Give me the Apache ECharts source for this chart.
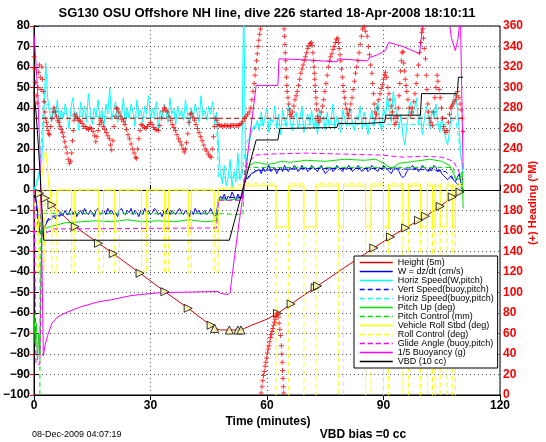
<!DOCTYPE html>
<html><head><meta charset="utf-8">
<script src="https://cdn.jsdelivr.net/npm/echarts@6/dist/echarts.min.js"></script>
<style>html,body{margin:0;padding:0;background:#fff}#c{width:546px;height:442px}</style>
</head><body><div id="c"></div>
<script>
// ---------- DATA ----------
const timeStep = 0.5; // minutes between samples of the dense series
const xTicks = [0, 30, 60, 90, 120];
const leftTicks = {min: -100, max: 80, step: 10};
const rightTicks = {min: 0, max: 360, step: 20};

const legendNames = ['Height (5m)','W = dz/dt (cm/s)','Horiz Speed(W,pitch)','Vert Speed(buoy,pitch)','Horiz Speed(buoy,pitch)','Pitch Up (deg)','Pitch Control (mm)','Vehicle Roll Stbd (deg)','Roll Control (deg)','Glide Angle (buoy,pitch)','1/5 Buoyancy (g)','VBD (10 cc)'];

const heightLine = [[0,0],[1.4,-1.6],[2.9,-4],[4.6,-7.3],[10.6,-17.9],[16.6,-26],[20.4,-31],[27.3,-40.6],[33.7,-49.6],[39.7,-57.7],[46.5,-67.5],[48,-68.3],[53,-68.3],[54.2,-67.5],[56,-66],[58,-64.5],[60,-63],[62.7,-60.2],[66.2,-55.6],[73,-46.8],[80,-37.8],[87.5,-28.3],[91.8,-22.9],[95.7,-18.5],[99,-14.8],[100.8,-12.8],[104.6,-8],[107.7,-3.4],[109.7,-1.2],[110.5,0]];
const heightMarks = [[1.4,-1.6],[2.9,-4],[4.6,-7.3],[10.6,-17.9],[16.6,-26],[20.4,-31],[27.3,-40.6],[33.7,-49.6],[39.7,-57.7],[45.6,-66],[46.5,-67.5],[50.3,-68.3],[52.5,-68.3],[53.3,-68.3],[62.7,-60.2],[66.2,-55.6],[72.4,-47.6],[73,-46.8],[87.5,-28.3],[91.8,-22.9],[95.7,-18.5],[99,-14.8],[100.8,-12.8],[104.6,-8],[107.7,-3.4],[109.7,-1]];

const wDzDt = [0,-4,-12,-20,-22,-19,-17,-15,
-15,-14,-13,-14,-12,-13,-11,-12,-10,-12,
-11,-9,-12,-10,-13,-11,-10,-12,-9,-11,
-12,-10,-11,-13,-10,-9,-12,-11,-10,-12,
-9,-11,-10,-12,-11,-13,-10,-9,-11,-12,
-10,-11,-9,-12,-10,-11,-13,-10,-12,-9,
-11,-10,-12,-11,-9,-10,-12,-11,-13,-10,
-11,-9,-12,-10,-11,-12,-10,-9,-11,-12,
-10,-11,-13,-10,-12,-9,-11,-10,-12,-11,
-10,-12,-11,-9,-11,-13,-12,
-6,-3,-4,-2,-5,-3,-4,-1,-3,-5,-2,-4,-3,
2,
5,6,7,8,8,9,
9,10,8,11,9,10,12,9,10,11,
8,10,11,9,12,10,9,11,10,12,
11,9,10,12,10,11,9,10,12,11,
10,9,11,12,10,8,9,10,11,9,
10,12,11,10,9,11,10,12,11,9,
10,11,12,10,9,10,11,9,10,12,
11,10,9,11,10,12,11,10,9,8,
10,11,10,9,7,6,7,9,10,11,
12,10,11,9,10,12,11,10,9,11,
10,12,11,9,10,8,7,6,5,6,
7,
5,4,6,8,3,0];

const horizSpeedW = [0,2,5,10,15,
35,62,45,
38,33,41,36,44,31,39,35,42,37,
30,40,45,34,38,29,43,36,41,33,
47,38,32,40,36,44,35,39,31,42,
37,50,34,39,43,33,38,36,45,32,
40,35,42,38,31,44,36,39,33,41,
37,46,34,40,36,43,30,39,35,42,
38,33,45,37,40,32,41,36,39,34,
44,37,31,40,35,42,38,33,46,36,
39,34,41,37,43,32,38,
22,8,3,12,2,6,15,1,9,4,18,5,10,
95,
12,18,24,28,31,30,
34,29,38,31,36,40,28,35,33,41,
30,37,27,39,34,31,42,33,29,36,
38,30,35,41,28,34,37,32,39,30,
35,27,40,33,36,29,38,31,34,42,
30,36,33,28,39,35,31,37,40,32,
29,36,34,41,30,38,33,27,35,39,
31,37,44,34,29,40,36,46,38,33,
48,42,35,30,37,26,22,31,38,43,
36,40,45,32,38,27,34,41,37,30,
39,35,42,33,28,36,30,25,22,29,
38,
45,48,40,30,15,8];

const vertSpeedBuoy = [[0,0],[0.5,-6],[1,-16],[1.5,-21],[2.5,-18],[4,-13],[10,-11.5],[47,-11.5],[47.5,-4],[53.5,-3.5],[54.2,4],[57,9.5],[70,10.5],[90,10.5],[100,10],[106,9],[108,5],[110.5,0]];
const horizSpeedBuoy = [[0,0],[1.5,10],[2.5,45],[3.5,40],[10,36],[47,35],[47.5,6],[53.5,6],[54.5,22],[57,32],[107,32],[108.5,36],[110.5,10]];

const pitchUp = [[0,-60],[0.3,-75],[0.6,-65],[0.9,-83],[1.2,-70],[1.5,-80],[1.8,-40],[2.1,-20],[2.5,-19],[4,-18],[8,-16],[12,-15.5],[16,-15],[20,-15.5],[24,-14.5],[28,-15.5],[32,-15],[36,-15.5],[40,-14.5],[44,-15.5],[47,-15],[47.5,-4.5],[50,-5],[53.8,-4],[54.5,8],[55.5,12],[57,13.5],[60,12.5],[62,13],[63.5,14],[66,13.5],[70,14.5],[75,14],[80,15],[85,14.5],[88,15],[90,13],[92,10.5],[94,13],[98,14],[102,15],[105,14],[107,12],[108.5,6],[109.5,5],[110.3,9],[110.5,-9]];
const pitchControl = [[0,-105],[1.5,-105],[1.6,-11.5],[47,-11.5],[47.5,-12],[53.8,-12],[54.3,11],[108,11],[108.5,5],[110.5,5]];

const vehicleRoll = [[0,-5],[0.5,-15],[1,-22],[1.5,-8],[2,6],[2.5,16],[3,19],[3.4,12],[3.8,2],[4.2,0],
[4.6,0],[4.6,-20],[5.9,-20],[5.9,0],[9.7,0],[9.7,-20],[10.5,-20],[10.5,0],
[16.7,0],[16.7,-20],[17.9,-20],[17.9,0],[20.8,0],[20.8,-20],[22,-20],[22,0],
[27.7,0],[27.7,-20],[29,-20],[29,0],[33.6,0],[33.6,-20],[34.6,-20],[34.6,0],
[39.7,0],[39.7,-20],[40.5,-20],[40.5,0],[46.4,0],[46.4,-20],[47.4,-20],[47.4,0.5],
[53.5,0.5],[54,2],
[62.3,2],[62.3,-18],[65.6,-18],[65.6,2],[69.5,2],[69.5,-18],[72.6,-18],[72.6,2],
[78.5,2],[78.5,-18],[79.7,-18],[79.7,2],[85.4,2],[85.4,-18],[86.8,-18],[86.8,2],
[90,2],[90,-18],[91.3,-18],[91.3,2],[95,2],[95,-18],[96.4,-18],[96.4,2],
[99.5,2],[99.5,-18],[101.3,-18],[101.3,2],[102.6,2],[102.6,-18],[103.3,-18],[103.3,2],
[104.6,2],[104.6,-18],[106.4,-18],[106.4,2],[107.7,2],[107.7,-18],[108.5,-18],[108.5,2],[110.5,2]];
const rollControl = [[0,0],[0.5,0],[0.5,-40],[1.2,-40],[1.2,0],[2.5,0],[2.5,-40],[3,-40],[3,0],
[4.6,0],[4.6,-40],[5.9,-40],[5.9,0],[9.7,0],[9.7,-40],[10.5,-40],[10.5,0],
[16.7,0],[16.7,-40],[17.9,-40],[17.9,0],[20.8,0],[20.8,-40],[22,-40],[22,0],
[27.7,0],[27.7,-40],[29,-40],[29,0],[33.6,0],[33.6,-40],[34.6,-40],[34.6,0],
[39.7,0],[39.7,-40],[40.5,-40],[40.5,0],[46.4,0],[46.4,-40],[47.4,-40],[47.4,0],
[54,3],[62.3,3],[62.3,-105],[65.6,-105],[65.6,3],[69.5,3],[69.5,-105],[72.6,-105],[72.6,3],
[78.5,3],[78.5,-105],[79.7,-105],[79.7,3],[85.4,3],[85.4,-105],[86.8,-105],[86.8,3],
[90,3],[90,-105],[91.3,-105],[91.3,3],[95,3],[95,-105],[96.4,-105],[96.4,3],
[99.5,3],[99.5,-105],[101.3,-105],[101.3,3],[102.6,3],[102.6,-105],[103.3,-105],[103.3,3],
[104.6,3],[104.6,-105],[106.4,-105],[106.4,3],[107.7,3],[107.7,-105],[108.5,-105],[108.5,3],[110.5,3]];

const glideAngle = [[0,0],[0.5,-85],[1.5,-85],[2,-22],[3,-21],[5,-19],[47,-18.5],[47.5,-5],[53.5,-5],[54.5,12],[57,17],[60,17.5],[70,18],[80,17.5],[90,17],[95,16],[100,16.5],[105,16],[108,14],[110.5,5]];
const buoyancy = [[0,76],[0.5,62],[1,45],[1.5,20],[2,-30],[2.4,-81],[2.8,-76],[3.5,-71],[4.6,-65],[6,-62],[8,-60],[12,-57],[16.5,-54.6],[20,-53.5],[25,-51.5],[30,-50.5],[33.6,-50],[40,-49.8],[47.4,-49.5],[48,-50.5],[50,-51],[50.5,-50],[51,-42],[52.5,-20],[54,0],[55.5,25],[57.2,51],[62.8,51],[63.1,64],[70,63.5],[78,62.5],[78.3,64],[85.9,63],[86.3,64.5],[88.5,66],[90.5,68],[91.3,72],[95,70],[99.3,66.5],[100.3,85],[106.7,85],[107.5,74],[108.5,68],[109.2,74],[109.8,85],[110.3,85],[110.5,10]];
const vbd = [[0,48],[0.5,38],[1,25],[1.5,10],[2,-8],[2.5,-24.5],[50.3,-24.5],[57.2,24.4],[62.8,24.4],[63.3,30],[78,30.5],[78.3,32.5],[85.8,32.5],[86.1,33],[90.3,33],[90.6,36.5],[99.5,36.5],[99.8,47],[109,47],[109.3,55],[110.5,55]];

const headingDesired = [[0,270],[110.5,270]];
const heading = [[0,330],[0.2,318],[0.4,305],[0.6,292],[0.8,285],[1,300],[1.2,315],[1.4,322],[1.6,310],[1.8,298],[2,320],[2.2,308],[2.4,296],[2.6,286],[2.8,276],[3,270],[3.2,266],[3.4,262],[3.6,258],[3.8,255],[4,254],[4.3,262],[4.6,270],[4.9,276],[5.2,280],[5.5,276],
[5.8,272],[6.1,268],[6.4,266],[6.7,262],[7,259],[7.3,256],[7.6,252],[7.9,247],[8.2,242],[8.5,236],[8.8,230],[9.1,226],[9.4,228],[9.7,236],[9.9,248],[10.1,258],[10.3,268],[10.5,274],
[10.8,272],[11.2,270],[11.6,268],[12,267],[12.4,265],[12.8,262],[13.2,262],[13.6,260],[14,259],[14.4,261],[14.8,260],[15.2,257],[15.6,253],[15.9,247],[16.2,252],[16.5,258],[16.8,264],[17.1,268],[17.4,266],
[17.8,262],[18.2,259],[18.6,256],[19,253],[19.4,250],[19.7,244],[20,239],[20.3,248],[20.6,262],[20.9,272],[21.2,280],[21.5,279],[21.8,276],[22.2,272],[22.6,269],[23,267],[23.4,264],[23.8,259],[24.2,254],[24.6,250],[25,245],[25.4,240],[25.8,236],[26.1,232],[26.4,231],[26.7,240],[27,250],[27.3,258],[27.6,264],[28,263],[28.4,261],[28.8,260],[29.2,262],
[29.6,264],[30,266],[30.4,264],[30.8,261],[31.2,259],[31.6,259],[32,258],[32.4,263],[32.8,270],[33.2,277],[33.6,280],[34,278],[34.4,276],[34.8,272],[35.2,268],[35.6,264],[36,261],[36.4,258],[36.8,254],[37.2,250],[37.6,247],[38,244],[38.4,240],[38.7,237],[39,240],[39.3,246],[39.6,255],[39.9,266],[40.2,274],[40.5,275],[40.9,271],[41.3,268],[41.7,264],[42.1,260],[42.5,256],[42.9,252],[43.3,248],[43.7,244],[44.1,240],[44.5,238],[44.9,235],[45.3,233],[45.6,232],[45.9,240],[46.2,252],[46.5,262],[46.8,270],[47.1,268],[47.4,264],
[47.8,263],[48.2,263],[48.6,262],[49,263],[49.4,263],[49.8,263],[50.2,262],[50.6,263],[51,263],[51.4,263],[51.8,263],[52.2,263],[52.6,263],[53,264],[53.4,265],[53.8,267],[54.2,270],[54.6,272],[55,274],[55.4,276],[55.8,280],[56.1,288],[56.4,296],[56.7,304],[56.9,312],[57.1,318],[57.3,326],[57.5,333],[57.7,340],[57.9,346],[58.1,352],[58.3,357],
[58.5,2],[58.7,8],[58.9,14],[59.1,19],[59.3,23],[59.5,28],[59.7,32],[59.9,36],[60.1,41],[60.3,45],[60.5,48],[60.7,52],[60.9,56],[61.1,59],[61.3,62],[61.5,65],[61.7,68],[61.9,71],[62.1,74],[62.3,77],[62.5,79],[62.7,80],
[62.9,76],[63.1,70],[63.3,64],[63.5,58],[63.7,48],[63.8,40],[63.9,32],[64,24],[64.1,16],[64.2,8],[64.3,2],
[64.4,357],[64.5,350],[64.6,342],[64.7,334],[64.8,326],[64.9,318],[65,310],[65.1,302],[65.2,296],[65.4,290],[65.6,284],[65.8,278],[66,274],
[66.3,272],[66.6,276],[66.9,282],[67.2,288],[67.5,292],[67.8,296],[68.1,302],[68.4,308],[68.7,314],[69,318],[69.3,322],[69.6,326],[69.9,330],[70.2,334],[70.5,338],[70.8,341],[71.1,343],[71.4,344],
[71.6,341],[71.8,334],[72,326],[72.1,320],[72.2,314],[72.3,308],[72.4,302],[72.5,296],[72.6,290],[72.7,284],[72.8,278],[73,272],[73.2,268],[73.4,266],
[73.7,270],[74,276],[74.3,282],[74.6,288],[74.9,296],[75.2,304],[75.5,312],[75.8,320],[76.1,326],[76.4,330],[76.7,333],[77,337],[77.3,340],[77.6,344],[77.9,347],[78.2,348],
[78.4,344],[78.6,338],[78.8,332],[79,326],[79.2,318],[79.4,310],[79.6,302],[79.8,296],[80,290],[80.2,284],[80.4,279],[80.7,275],[81,273],
[81.3,278],[81.6,284],[81.9,290],[82.2,298],[82.5,306],[82.8,314],[83.1,320],[83.4,326],[83.7,334],[84,342],[84.3,350],[84.6,357],
[85,359],[85.4,355],[85.8,350],[86.1,340],[86.4,332],[86.7,322],[87,314],[87.2,304],[87.4,294],[87.6,284],[87.8,276],[88,270],
[88.2,274],[88.5,280],[88.8,288],[89.1,294],[89.4,299],[89.7,303],[90,308],[90.3,312],[90.5,315],[90.8,310],[91.1,300],[91.4,294],[91.7,288],[92,282],[92.3,276],[92.6,270],[92.9,264],[93.2,266],[93.5,272],[93.8,280],[94,292],[94.2,304],[94.4,316],[94.6,326],[94.8,334],[95,335],[95.2,324],[95.4,316],[95.6,308],[95.8,302],[96,296],[96.3,288],[96.6,280],[96.9,273],[97.2,276],[97.5,280],[97.8,286],[98.1,294],[98.4,304],[98.7,312],[99,322],[99.3,334],[99.6,344],[99.9,354],[100.1,357],[100.3,348],[100.5,338],[100.8,328],[101,312],[101.2,298],[101.4,284],[101.6,276],[101.9,270],[102.2,266],[102.6,263],[102.9,276],[103.2,290],[103.5,300],[103.8,312],[104,306],[104.3,298],[104.6,290],[104.9,280],[105.2,270],[105.5,262],[105.8,258],[106.1,256],[106.4,258],[106.7,266],[107,274],[107.3,280],[107.6,282],[107.9,284],[108.2,286],[108.5,288],[108.8,292],[109.1,296],[109.4,290],[109.7,284],[110,278],[110.3,270],[110.5,257]];

// ---------- CHART ----------
const FONT = '"Liberation Sans", Arial, Helvetica, sans-serif';
const sampled = vals => vals.map((v, i) => [i * timeStep, v]);
const DASH = [5, 3];
function lineSeries(name, data, color, dashed, z) {
  return {name, type: 'line', data, symbol: 'none', showSymbol: false, animation: false,
    lineStyle: {color, width: 1, type: dashed ? DASH : 'solid'}, itemStyle: {color}, z: z || 2};
}
const minus = v => String(v).replace('-', '\u2212');
const PLUS = 'path://M4,0H6V4H10V6H6V10H4V6H0V4H4Z';

const chart = echarts.init(document.getElementById('c'), null, {renderer: 'canvas'});
chart.setOption({
  animation: false,
  backgroundColor: '#fff',
  textStyle: {fontFamily: FONT},
  grid: {left: 32, right: 46, top: 26, bottom: 47, show: true, borderColor: '#000', borderWidth: 1, backgroundColor: '#fff'},
  xAxis: [{
    type: 'value', min: xTicks[0], max: xTicks[xTicks.length - 1], interval: xTicks[1] - xTicks[0],
    axisLine: {lineStyle: {color: '#000'}}, axisTick: {inside: true, length: 5, lineStyle: {color: '#000'}},
    axisLabel: {color: '#000', fontWeight: 'bold', fontSize: 12, fontFamily: FONT, margin: 5},
    splitLine: {show: true, lineStyle: {color: '#555', type: [1, 3], width: 1}}
  }, {
    type: 'value', position: 'top', min: xTicks[0], max: xTicks[xTicks.length - 1], interval: xTicks[1] - xTicks[0],
    axisLine: {lineStyle: {color: '#000'}}, axisTick: {inside: true, length: 5, lineStyle: {color: '#000'}},
    axisLabel: {show: false}, splitLine: {show: false}
  }],
  yAxis: [{
    type: 'value', min: leftTicks.min, max: leftTicks.max, interval: leftTicks.step,
    axisLine: {show: true, lineStyle: {color: '#000'}}, axisTick: {show: true, inside: true, length: 5, lineStyle: {color: '#000'}},
    axisLabel: {color: '#000', fontWeight: 'bold', fontSize: 12, fontFamily: FONT, margin: 4, formatter: minus},
    splitLine: {show: true, lineStyle: {color: '#555', type: [1, 3], width: 1}}
  }, {
    type: 'value', position: 'right', min: rightTicks.min, max: rightTicks.max, interval: rightTicks.step,
    axisLine: {show: true, lineStyle: {color: '#000'}}, axisTick: {show: true, inside: true, length: 4, lineStyle: {color: '#ff0000'}},
    axisLabel: {color: '#ff0000', fontWeight: 'bold', fontSize: 12, fontFamily: FONT, margin: 3},
    splitLine: {show: false}
  }],
  legend: {
    data: legendNames, orient: 'vertical', left: 354, top: 256,
    itemWidth: 33, itemHeight: 11, itemGap: 0, padding: [2, 4, 2, 5],
    backgroundColor: '#fff', borderColor: '#000', borderWidth: 1, borderRadius: 0,
    selectedMode: false,
    itemStyle: {opacity: 0},
    lineStyle: {width: 1.5},
    textStyle: {fontSize: 9, fontFamily: FONT, color: '#000'}
  },
  series: [
    lineSeries(legendNames[0], heightLine, '#e00000'),
    lineSeries(legendNames[1], sampled(wDzDt), '#0000ff'),
    lineSeries(legendNames[2], sampled(horizSpeedW), '#00ffff'),
    lineSeries(legendNames[3], vertSpeedBuoy, '#0000ff', true),
    lineSeries(legendNames[4], horizSpeedBuoy, '#00ffff', true),
    lineSeries(legendNames[5], pitchUp, '#00e000'),
    lineSeries(legendNames[6], pitchControl, '#00e000', true),
    lineSeries(legendNames[7], vehicleRoll, '#ffff00'),
    lineSeries(legendNames[8], rollControl, '#ffff00', true),
    lineSeries(legendNames[9], glideAngle, '#ff00ff', true),
    lineSeries(legendNames[10], buoyancy, '#ff00ff'),
    lineSeries(legendNames[11], vbd, '#000000'),
    {name: 'heightMarks', type: 'scatter', data: heightMarks, symbol: 'triangle', symbolSize: 8,
     symbolRotate: (v) => (v[1] < -66 ? 0 : -90),
     itemStyle: {color: '#ffffb0', borderColor: '#000', borderWidth: 1}, z: 4},
    Object.assign(lineSeries('headingDesired', headingDesired, '#a00000', true, 3), {yAxisIndex: 1}),
    {name: 'heading', type: 'scatter', yAxisIndex: 1, data: heading, symbol: PLUS, symbolSize: 5,
     itemStyle: {color: '#ff0000'}, z: 5}
  ],
  graphic: [
    {type: 'text', x: 267, y: 13, style: {text: 'SG130 OSU Offshore NH line, dive 226 started 18-Apr-2008 18:10:11', font: 'bold 13px ' + FONT, fill: '#000', align: 'center', verticalAlign: 'middle', textAlign: 'center', textVerticalAlign: 'middle'}},
    {type: 'text', x: 268, y: 422, style: {text: 'Time (minutes)', font: 'bold 12px ' + FONT, fill: '#000', align: 'center', verticalAlign: 'middle', textAlign: 'center', textVerticalAlign: 'middle'}},
    {type: 'text', x: 32, y: 435, style: {text: '08-Dec-2009 04:07:19', font: '9px ' + FONT, fill: '#000', align: 'left', verticalAlign: 'middle', textAlign: 'left', textVerticalAlign: 'middle'}},
    {type: 'text', x: 363, y: 435, style: {text: 'VBD bias =0 cc', font: 'bold 12px ' + FONT, fill: '#000', align: 'center', verticalAlign: 'middle', textAlign: 'center', textVerticalAlign: 'middle'}},
    {type: 'text', x: 533, y: 203, rotation: Math.PI / 2, style: {text: '(+) Heading (\u00B0M)', font: 'bold 11px ' + FONT, fill: '#ff0000', align: 'center', verticalAlign: 'middle', textAlign: 'center', textVerticalAlign: 'middle'}}
  ]
});
</script></body></html>
